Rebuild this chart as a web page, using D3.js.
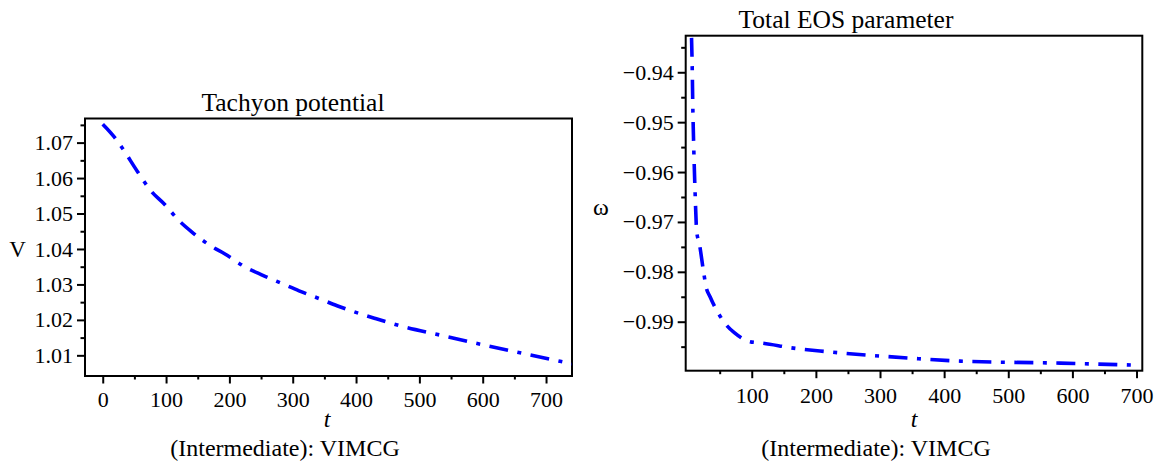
<!DOCTYPE html>
<html>
<head>
<meta charset="utf-8">
<script src="https://cdn.jsdelivr.net/npm/d3@7"></script>
<style>
  html, body { margin: 0; padding: 0; background: #fff; }
  svg { display: block; }
  text { font-family: "Liberation Serif", "Times New Roman", serif; fill: #000; }
</style>
</head>
<body>
<svg id="chart" width="1165" height="465"></svg>
<script>
// ---------- Data: Tachyon potential ----------
const potT = [0, 20, 30, 55, 77, 96, 122, 140, 172, 193, 225, 251, 285, 310, 346, 370, 405, 432, 468, 533, 600, 667, 733, 741];
const potV = [1.0752, 1.0712, 1.0687, 1.0618, 1.0562, 1.0529, 1.0477, 1.0449, 1.0407, 1.0386, 1.0349, 1.0327, 1.0301, 1.0282, 1.0257, 1.0240, 1.0218, 1.0203, 1.0184, 1.0157, 1.0130, 1.0104, 1.0079, 1.0076];

// ---------- Data: Total EOS parameter ----------
const eosT = [6.1, 7.3, 8.0, 9.5, 11.5, 14.2, 18.2, 25.1, 28.7, 35, 47.4, 59.4, 72.8, 97.3, 117, 165, 217, 347, 425, 581, 698];
const eosW = [-0.9331, -0.9401, -0.9462, -0.9548, -0.9635, -0.9720, -0.9743, -0.9802, -0.9830, -0.9850, -0.9882, -0.9905, -0.9922, -0.9940, -0.9943, -0.9953, -0.9960, -0.9973, -0.9979, -0.9983, -0.9987];

// ---------- Tick values ----------
const potXMajor = [0, 100, 200, 300, 400, 500, 600, 700];
const potXMinor = [50, 150, 250, 350, 450, 550, 650];
const potYMajor = [1.01, 1.02, 1.03, 1.04, 1.05, 1.06, 1.07];
const potYMinor = [1.015, 1.025, 1.035, 1.045, 1.055, 1.065, 1.075];

const eosXMajor = [100, 200, 300, 400, 500, 600, 700];
const eosXMinor = [50, 150, 250, 350, 450, 550, 650];
const eosYMajor = [-0.99, -0.98, -0.97, -0.96, -0.95, -0.94];
const eosYMinor = [-0.995, -0.985, -0.975, -0.965, -0.955, -0.945, -0.935];

// ---------- Texts ----------
const titles = ["Tachyon potential", "Total EOS parameter"];
const yLabels = ["V", "\u03C9"];
const xLabel = "t";
const captions = ["(Intermediate): VIMCG", "(Intermediate): VIMCG"];

const svg = d3.select("#chart");
const blue = "#0000ff";
const FONT = "Liberation Serif";

function fmtMinus(d, digits) {
  const s = d3.format("." + digits + "f")(Math.abs(d));
  return d < 0 ? "\u2212" + s : s;
}

function panel(cfg) {
  const x = d3.scaleLinear().domain(cfg.xDomain).range([cfg.left, cfg.right]);
  const y = d3.scaleLinear().domain(cfg.yDomain).range([cfg.bottom, cfg.top]);
  const g = svg.append("g");

  const clipId = "clip" + cfg.id;
  svg.append("defs").append("clipPath").attr("id", clipId)
    .append("rect").attr("x", cfg.left).attr("y", cfg.top)
    .attr("width", cfg.right - cfg.left).attr("height", cfg.bottom - cfg.top);

  // minor ticks
  g.append("g").attr("transform", `translate(0,${cfg.bottom})`)
    .call(d3.axisBottom(x).tickValues(cfg.xMinor).tickSize(3.5).tickFormat(""))
    .call(a => a.select(".domain").remove())
    .call(a => a.selectAll("line").attr("stroke-width", 2));
  g.append("g").attr("transform", `translate(${cfg.left},0)`)
    .call(d3.axisLeft(y).tickValues(cfg.yMinor).tickSize(4.5).tickFormat(""))
    .call(a => a.select(".domain").remove())
    .call(a => a.selectAll("line").attr("stroke-width", 2));

  // major ticks
  g.append("g").attr("transform", `translate(0,${cfg.bottom})`)
    .call(d3.axisBottom(x).tickValues(cfg.xMajor).tickSize(7.5).tickPadding(cfg.xPad).tickFormat(d => d3.format("d")(d)))
    .call(a => a.select(".domain").remove())
    .call(a => a.selectAll("line").attr("stroke-width", 2))
    .call(a => a.selectAll("text").style("font-size", "22px").style("font-family", FONT));
  g.append("g").attr("transform", `translate(${cfg.left},0)`)
    .call(d3.axisLeft(y).tickValues(cfg.yMajor).tickSize(8).tickPadding(4).tickFormat(d => fmtMinus(d, 2)))
    .call(a => a.select(".domain").remove())
    .call(a => a.selectAll("line").attr("stroke-width", 2))
    .call(a => a.selectAll("text").style("font-size", "22px").style("font-family", FONT));

  // frame
  g.append("rect").attr("x", cfg.left).attr("y", cfg.top)
    .attr("width", cfg.right - cfg.left).attr("height", cfg.bottom - cfg.top)
    .attr("fill", "none").attr("stroke", "#000").attr("stroke-width", 2);

  // curve
  const line = d3.line().x(d => x(d[0])).y(d => y(d[1])).curve(d3.curveMonotoneX);
  g.append("path")
    .datum(cfg.xs.map((t, i) => [t, cfg.ys[i]]))
    .attr("clip-path", `url(#${clipId})`)
    .attr("d", line)
    .attr("fill", "none")
    .attr("stroke", blue)
    .attr("stroke-width", 3.6)
    .attr("stroke-dasharray", "19,9.5,4,9.5");

  // texts
  g.append("text").attr("x", cfg.titleX).attr("y", cfg.titleY)
    .attr("text-anchor", "middle").style("font-size", "25.5px").text(cfg.title);
  g.append("text").attr("x", cfg.yLabX).attr("y", cfg.yLabY)
    .attr("text-anchor", "middle").style("font-size", cfg.yLabSize + "px").text(cfg.yLabel);
  g.append("text").attr("x", cfg.tX).attr("y", cfg.tY)
    .attr("text-anchor", "middle").style("font-size", "24px").style("font-style", "italic").text(xLabel);
  g.append("text").attr("x", cfg.capX).attr("y", cfg.capY)
    .attr("text-anchor", "middle").style("font-size", "24px").text(cfg.caption);
}

panel({
  id: "a", left: 85, right: 572, top: 118.5, bottom: 376,
  xDomain: [-28, 741], yDomain: [1.00417, 1.0768],
  xMajor: potXMajor, xMinor: potXMinor, yMajor: potYMajor, yMinor: potYMinor,
  xs: potT, ys: potV, xPad: 7.5,
  title: titles[0], titleX: 293, titleY: 111,
  yLabel: yLabels[0], yLabX: 17.5, yLabY: 256.5, yLabSize: 23,
  tX: 327, tY: 427, caption: captions[0], capX: 285, capY: 456
});

panel({
  id: "b", left: 685.7, right: 1142.3, top: 35.7, bottom: 370.7,
  xDomain: [-3, 709], yDomain: [-0.99982, -0.93267],
  xMajor: eosXMajor, xMinor: eosXMinor, yMajor: eosYMajor, yMinor: eosYMinor,
  xs: eosT, ys: eosW, xPad: 9.5,
  title: titles[1], titleX: 846, titleY: 28,
  yLabel: yLabels[1], yLabX: 601, yLabY: 215, yLabSize: 24,
  tX: 914, tY: 427, caption: captions[1], capX: 876, capY: 456
});
</script>
</body>
</html>
